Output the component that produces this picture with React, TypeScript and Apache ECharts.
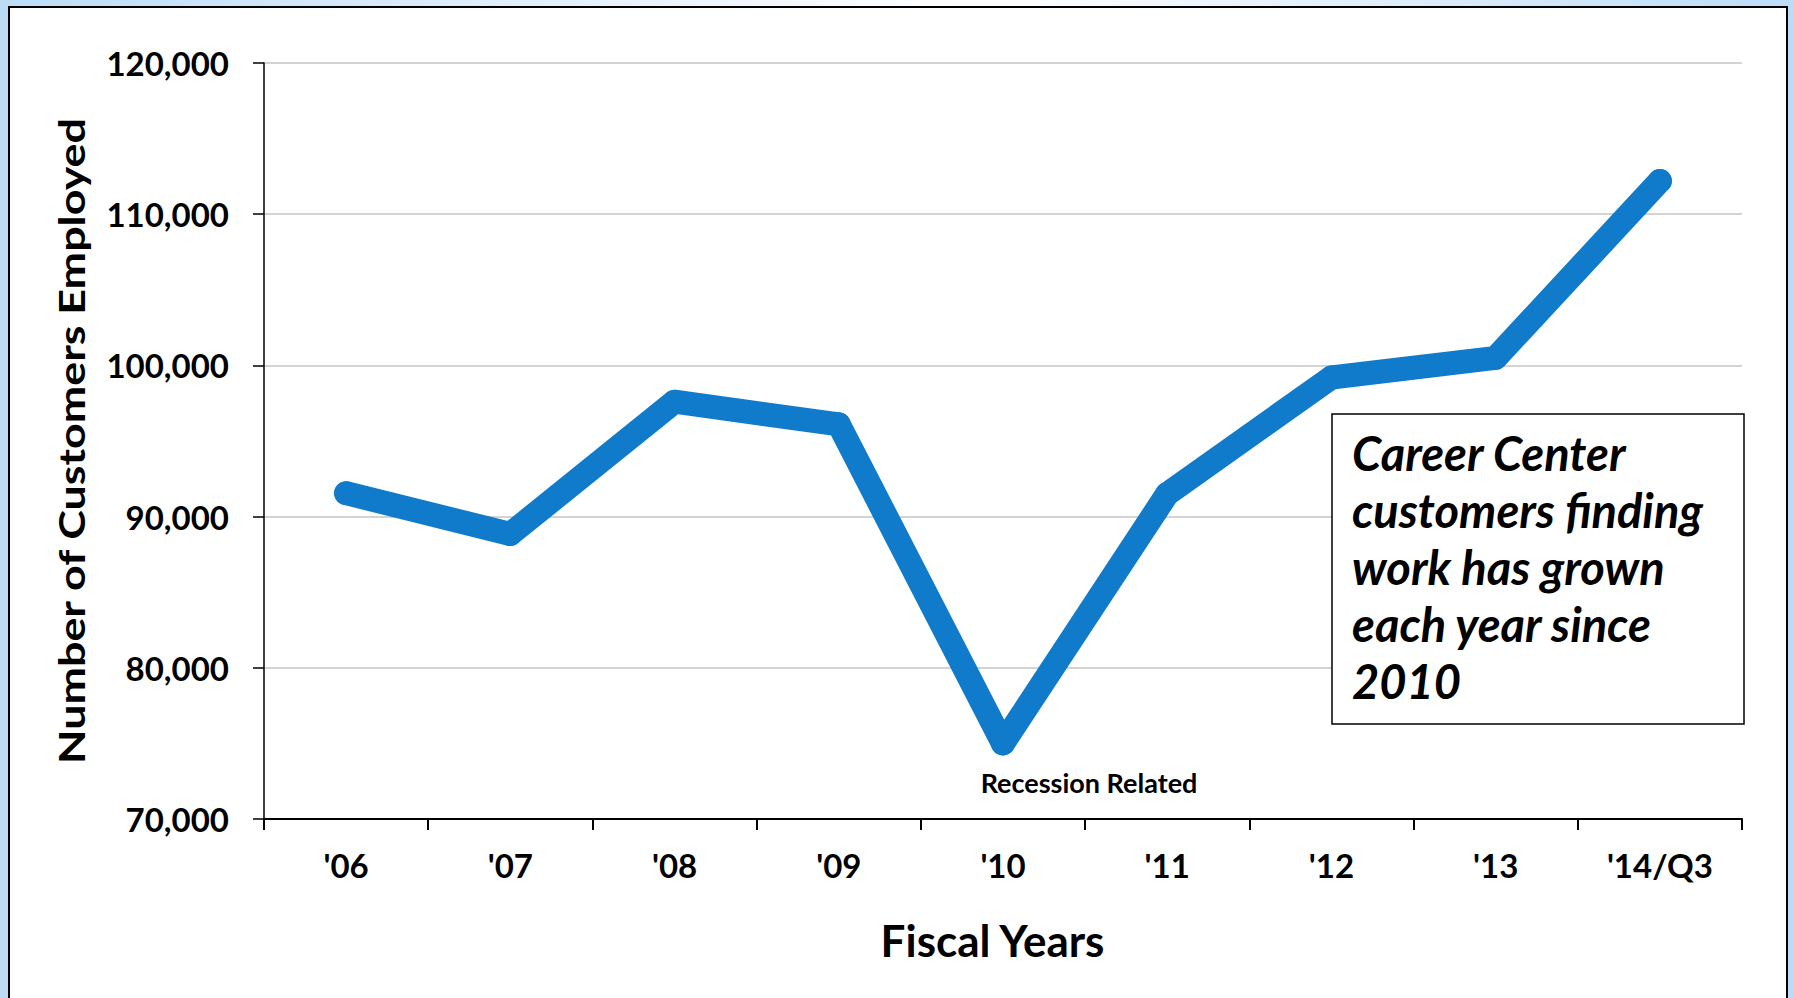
import React, { useEffect, useRef } from "react";
import * as echarts from "echarts";

const categories = ["'06", "'07", "'08", "'09", "'10", "'11", "'12", "'13", "'14/Q3"];
const customersEmployed = [91550, 88850, 97600, 96100, 75000, 91500, 99200, 100500, 112200];
const yMin = 70000;
const yMax = 120000;
const yInterval = 10000;
const annotationIndex = 4;
const annotationText = "Recession Related";
const calloutLines = ["Career Center", "customers finding", "work has grown", "each year since", "2010"];
const yAxisTitle = "Number of Customers Employed";
const xAxisTitle = "Fiscal Years";

const FONT = "Lato, 'Noto Sans', sans-serif";
const LINE_BLUE = "#0f7bca";

export default function App() {
  const ref = useRef<HTMLDivElement>(null);

  useEffect(() => {
    if (!ref.current) return;
    const chart = echarts.init(ref.current, null, { renderer: "svg" });
    const seriesData = customersEmployed.map((v, i) =>
      i === annotationIndex
        ? {
            value: v,
            label: {
              show: true,
              position: "bottom",
              distance: 0,
              offset: [86, 14],
              formatter: annotationText,
              fontFamily: FONT,
              fontWeight: "bold",
              fontSize: 27,
              color: "#000",
            },
          }
        : v
    );
    chart.setOption({
      animation: false,
      backgroundColor: "transparent",
      grid: { left: 264, right: 52, top: 63, bottom: 179, containLabel: false },
      xAxis: {
        type: "category",
        data: categories,
        boundaryGap: true,
        axisLine: { show: true, lineStyle: { color: "#000", width: 2 } },
        axisTick: { show: true, length: 11, lineStyle: { color: "#000", width: 2 } },
        axisLabel: {
          margin: 29,
          fontFamily: FONT,
          fontWeight: "bold",
          fontSize: 33,
          color: "#000",
        },
        splitLine: { show: false },
        name: xAxisTitle,
        nameLocation: "middle",
        nameGap: 99,
        nameTextStyle: {
          fontFamily: FONT,
          fontWeight: "bold",
          fontSize: 44,
          color: "#000",
          padding: [0, 21, 0, 0],
        },
      },
      yAxis: {
        type: "value",
        min: yMin,
        max: yMax,
        interval: yInterval,
        axisLine: { show: true, lineStyle: { color: "#000", width: 1.5 } },
        axisTick: { show: true, length: 11, lineStyle: { color: "#000", width: 1.5 } },
        axisLabel: {
          margin: 35,
          fontFamily: FONT,
          fontWeight: "bold",
          fontSize: 33,
          color: "#000",
          formatter: (v: number) => v.toLocaleString("en-US"),
        },
        splitLine: { show: true, lineStyle: { color: "#c4c4c4", width: 1.5 } },
      },
      graphic: [
        {
          type: "text",
          x: 71,
          y: 441,
          rotation: Math.PI / 2,
          scaleX: 1.245,
          style: {
            text: yAxisTitle,
            fontFamily: FONT,
            fontWeight: "bold",
            fontSize: 36,
            fill: "#000",
            align: "center",
            verticalAlign: "middle",
          },
        },
        {
          type: "rect",
          z: 10,
          shape: { x: 1332, y: 414, width: 412, height: 310 },
          style: { fill: "#fff", stroke: "#000", lineWidth: 1.5 },
        },
        {
          type: "text",
          z: 11,
          x: 1352,
          y: 424,
          style: {
            text: calloutLines.join("\n"),
            fontFamily: FONT,
            fontWeight: "bold",
            fontStyle: "italic",
            fontSize: 47,
            lineHeight: 57,
            fill: "#000",
            align: "left",
            verticalAlign: "top",
          },
        },
      ],
      series: [
        {
          type: "line",
          data: seriesData,
          symbol: "circle",
          symbolSize: 24,
          itemStyle: { color: LINE_BLUE },
          lineStyle: { color: LINE_BLUE, width: 24, cap: "round", join: "round" },
          z: 3,
        },
      ],
    });
    return () => chart.dispose();
  }, []);

  return (
    <div
      style={{
        position: "absolute",
        left: 0,
        top: 0,
        width: 1794,
        height: 998,
        overflow: "hidden",
        background: "linear-gradient(to right, #bcdcf6 0%, #f4f9fe 45%, #ffffff 55%, #bcdcf6 100%)",
      }}
    >
      <div
        style={{
          position: "absolute",
          left: 8,
          top: 6,
          width: 1780,
          height: 1010,
          background: "#fff",
          border: "2px solid #000",
          boxSizing: "border-box",
        }}
      />
      <div ref={ref} style={{ position: "absolute", left: 0, top: 0, width: 1794, height: 998 }} />
    </div>
  );
}
